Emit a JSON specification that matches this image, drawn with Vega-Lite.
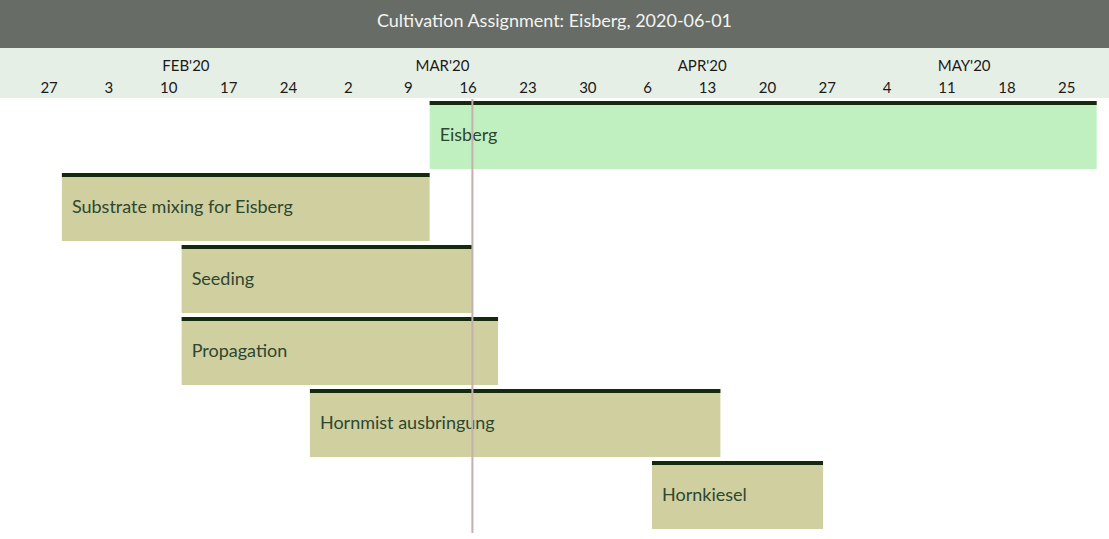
{
  "$schema": "https://vega.github.io/schema/vega-lite/v6.json",
  "padding": 0,
  "spacing": 0,
  "background": "#ffffff",
  "config": {"view": {"stroke": null}, "font": "Lato", "concat": {"spacing": 0}},
  "datasets": {
    "tasks": [
      {"task": "Eisberg", "start": "2020-03-12T00:00", "end": "2020-05-29T00:00", "kind": "crop"},
      {"task": "Substrate mixing for Eisberg", "start": "2020-01-29T00:00", "end": "2020-03-12T00:00", "kind": "step"},
      {"task": "Seeding", "start": "2020-02-12T00:00", "end": "2020-03-17T00:00", "kind": "step"},
      {"task": "Propagation", "start": "2020-02-12T00:00", "end": "2020-03-20T00:00", "kind": "step"},
      {"task": "Hornmist ausbringung", "start": "2020-02-27T00:00", "end": "2020-04-15T00:00", "kind": "step"},
      {"task": "Hornkiesel", "start": "2020-04-07T00:00", "end": "2020-04-27T00:00", "kind": "step"}
    ],
    "weeks": [
      {"d": "2020-01-27T12:00"}, {"d": "2020-02-03T12:00"}, {"d": "2020-02-10T12:00"}, {"d": "2020-02-17T12:00"},
      {"d": "2020-02-24T12:00"}, {"d": "2020-03-02T12:00"}, {"d": "2020-03-09T12:00"}, {"d": "2020-03-16T12:00"},
      {"d": "2020-03-23T12:00"}, {"d": "2020-03-30T12:00"}, {"d": "2020-04-06T12:00"}, {"d": "2020-04-13T12:00"},
      {"d": "2020-04-20T12:00"}, {"d": "2020-04-27T12:00"}, {"d": "2020-05-04T12:00"}, {"d": "2020-05-11T12:00"},
      {"d": "2020-05-18T12:00"}, {"d": "2020-05-25T12:00"}
    ],
    "months": [
      {"d": "2020-02-12T12:00", "label": "FEB'20"},
      {"d": "2020-03-13T12:00", "label": "MAR'20"},
      {"d": "2020-04-12T21:00", "label": "APR'20"},
      {"d": "2020-05-13T12:00", "label": "MAY'20"}
    ],
    "today": [{"t": "2020-03-17T00:00"}],
    "title": [{"title": "Cultivation Assignment: Eisberg, 2020-06-01"}]
  },
  "resolve": {"scale": {"x": "shared"}},
  "vconcat": [
    {
      "width": 1109,
      "height": 48,
      "view": {"fill": "#676c66", "stroke": null},
      "data": {"name": "title"},
      "mark": {"type": "text", "color": "#f4f4f0", "fontSize": 18, "font": "Lato", "baseline": "middle", "dy": -2},
      "encoding": {"text": {"field": "title", "type": "nominal"}}
    },
    {
      "width": 1109,
      "height": 50,
      "view": {"fill": "#e6efe6", "stroke": null},
      "layer": [
        {
          "data": {"name": "months"},
          "mark": {"type": "text", "color": "#1a1a1a", "fontSize": 15, "font": "Lato", "baseline": "middle", "dy": -7},
          "encoding": {
            "x": {"field": "d", "type": "temporal", "axis": null,
                  "scale": {"domain": [{"year": 2020, "month": 1, "date": 21, "hours": 18, "minutes": 16}, {"year": 2020, "month": 5, "date": 30, "hours": 10, "minutes": 33}]}},
            "text": {"field": "label", "type": "nominal"}
          }
        },
        {
          "data": {"name": "weeks"},
          "mark": {"type": "text", "color": "#1a1a1a", "fontSize": 15, "font": "Lato", "baseline": "middle", "dy": 15},
          "encoding": {
            "x": {"field": "d", "type": "temporal", "axis": null},
            "text": {"field": "d", "type": "temporal", "format": "%-d"}
          }
        }
      ]
    },
    {
      "width": 1109,
      "height": 434,
      "view": {"stroke": null},
      "layer": [
        {
          "data": {"name": "tasks"},
          "mark": {"type": "bar"},
          "encoding": {
            "x": {"field": "start", "type": "temporal", "axis": null},
            "x2": {"field": "end"},
            "y": {"field": "task", "type": "nominal", "sort": null, "axis": null,
                  "scale": {"paddingInner": 0.0556, "paddingOuter": 0.0417, "align": 0.333}},
            "color": {"field": "kind", "type": "nominal", "legend": null,
                      "scale": {"domain": ["crop", "step"], "range": ["#c0f0c0", "#d0cfa0"]}}
          }
        },
        {
          "data": {"name": "tasks"},
          "mark": {"type": "rule", "color": "#15290c", "strokeWidth": 4, "yOffset": 2},
          "encoding": {
            "x": {"field": "start", "type": "temporal"},
            "x2": {"field": "end"},
            "y": {"field": "task", "type": "nominal", "sort": null, "bandPosition": 0}
          }
        },
        {
          "data": {"name": "tasks"},
          "mark": {"type": "text", "align": "left", "baseline": "middle", "dx": 10, "dy": 1, "fontSize": 18, "font": "Lato", "color": "#2d4731"},
          "encoding": {
            "x": {"field": "start", "type": "temporal"},
            "y": {"field": "task", "type": "nominal", "sort": null},
            "text": {"field": "task", "type": "nominal"}
          }
        },
        {
          "data": {"name": "today"},
          "mark": {"type": "rule", "color": "#c4b0ae", "strokeWidth": 2},
          "encoding": {"x": {"field": "t", "type": "temporal"}}
        }
      ]
    }
  ]
}
